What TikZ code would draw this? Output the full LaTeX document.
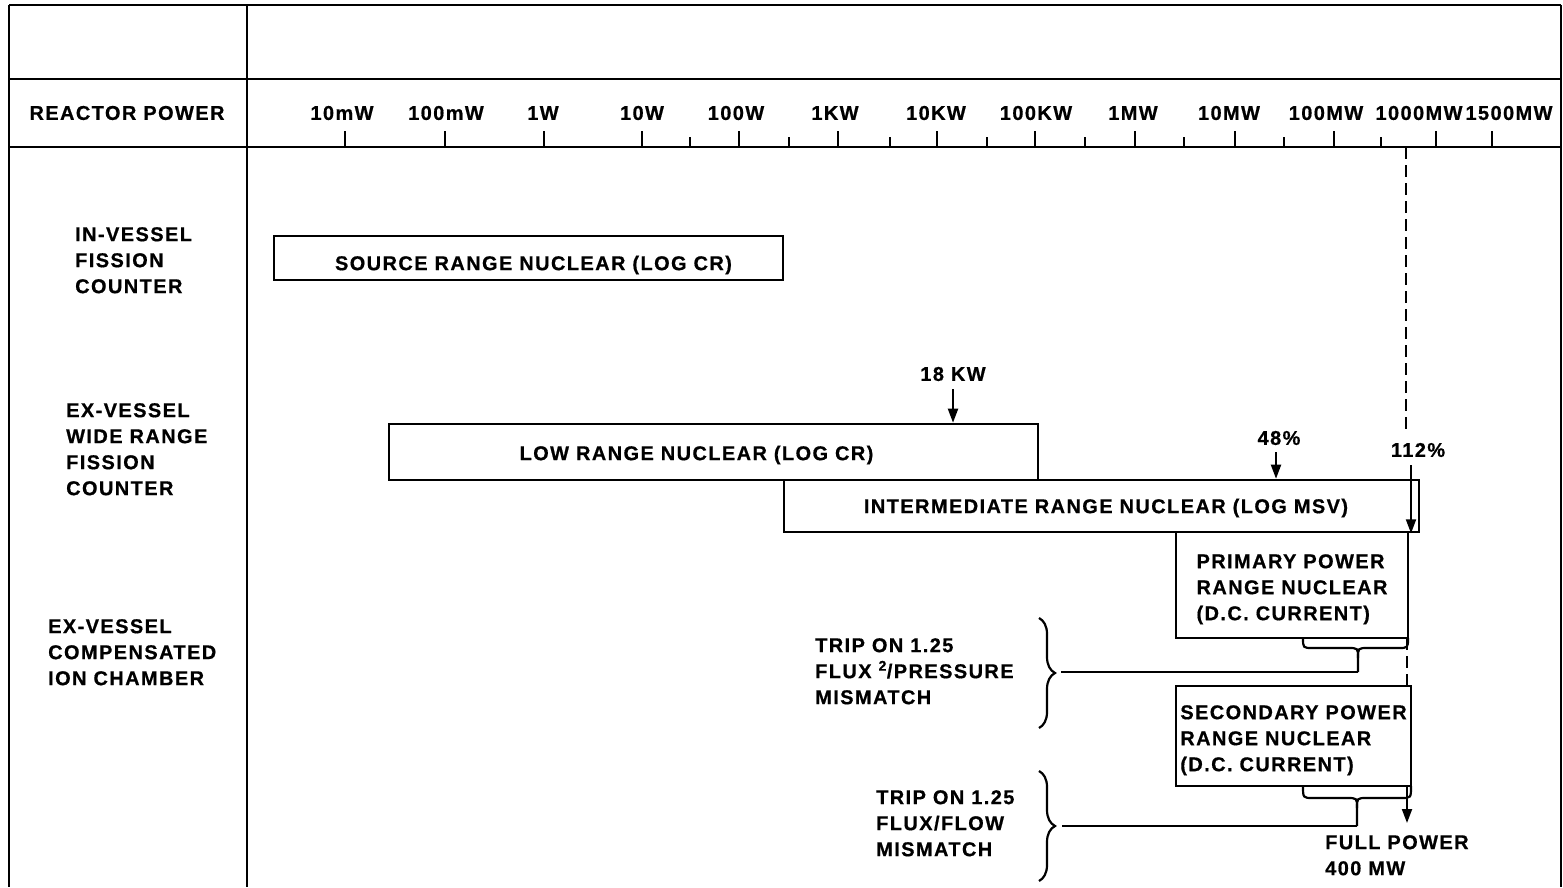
\documentclass[tikz,border=0pt]{standalone}
\usepackage{fontspec}
\setmainfont{Liberation Sans}[LetterSpace=7,BoldFeatures={FakeBold=0.6}]
\usetikzlibrary{arrows.meta,decorations.pathreplacing}
\newcommand{\dn}[2]{\raisebox{-#1}[\height][\depth]{#2}}
\tikzset{
  lab/.style={font=\fontsize{20}{26}\selectfont\bfseries, inner sep=0pt},
  blk/.style={lab, align=left, anchor=north west},
  box/.style={draw, line width=2.6pt, rectangle, inner sep=0pt, font=\fontsize{20}{26}\selectfont\bfseries},
  frame/.style={line width=2.6pt},
  tick/.style={line width=2.8pt},
  arr/.style={line width=2pt, -{Triangle[length=14pt,width=10pt]}},
  dsh/.style={line width=2pt, dash pattern=on 12pt off 6pt},
  conn/.style={line width=2.2pt},
  rbrace/.style={line width=2.2pt, decorate, decoration={brace, amplitude=16pt}}
}
\begin{document}
\begin{tikzpicture}[x=1pt,y=-1pt]
\useasboundingbox (0,0) rectangle (1563,887);
% frame
\draw[frame] (9,5) -- (1561,5);
\draw[frame] (9,5) -- (9,887);
\draw[frame] (1561,5) -- (1561,887);
\draw[frame] (247,5) -- (247,887);
\draw[frame] (9,79) -- (1561,79);
\draw[frame] (9,147) -- (1561,147);
\node[lab] (rp) at (127,113) {REACTOR POWER};
% scale ticks
\foreach \x in {345,445,544,642,739,838,937,1035,1135,1235,1334,1436,1492}
  \draw[tick] (\x,131) -- (\x,147);
\foreach \x in {690,789,890,987,1085,1184,1284,1381}
  \draw[tick] (\x,137) -- (\x,147);
\node[lab] (s1) at (342,113) {10mW};
\node[lab] (s2) at (446,113) {100mW};
\node[lab] (s3) at (543,113) {1W};
\node[lab] (s4) at (642,113) {10W};
\node[lab] (s5) at (736,113) {100W};
\node[lab] (s6) at (835,113) {1KW};
\node[lab] (s7) at (936,113) {10KW};
\node[lab] (s8) at (1036,113) {100KW};
\node[lab] (s9) at (1133,113) {1MW};
\node[lab] (s10) at (1229,113) {10MW};
\node[lab] (s11) at (1326,113) {100MW};
\node[lab] (s12) at (1419,113) {1000MW};
\node[lab] (s13) at (1509,113) {1500MW};
% left labels
\node[blk] (l1) at (75,227) {IN-VESSEL\\FISSION\\COUNTER};
\node[blk] (l2) at (66,403) {EX-VESSEL\\WIDE RANGE\\FISSION\\COUNTER};
\node[blk] (l3) at (48,619) {EX-VESSEL\\COMPENSATED\\ION CHAMBER};
% boxes
\node[box, minimum width=509pt, minimum height=44pt] (src) at (528.5,258)
  {\dn{7pt}{\hspace*{10pt}SOURCE RANGE NUCLEAR (LOG CR)}};
\node[box, minimum width=649pt, minimum height=56pt] (low) at (713.5,452)
  {\dn{3pt}{LOW RANGE NUCLEAR (LOG CR)\hspace*{34pt}}};
\node[box, minimum width=635pt, minimum height=52pt] (int) at (1101.5,506)
  {\dn{2pt}{\hspace*{9pt}INTERMEDIATE RANGE NUCLEAR (LOG MSV)}};
\node[box, minimum width=232pt, minimum height=106pt] (pri) at (1292,585)
  {\dn{4pt}{\begin{tabular}{@{}l@{}}PRIMARY POWER\\RANGE NUCLEAR\\(D.C. CURRENT)\end{tabular}}};
\node[box, minimum width=235pt, minimum height=100pt] (sec) at (1293.5,736)
  {\dn{4pt}{\begin{tabular}{@{}l@{}}SECONDARY POWER\\RANGE NUCLEAR\\(D.C. CURRENT)\end{tabular}}};
% markers
\node[lab] (kw) at (953,374) {18 KW};
\draw[arr] ([yshift=-8pt]kw.south) -- (kw.south |- low.north);
\node[lab] (p48) at (1279,438) {48\%};
\draw[arr] ([xshift=-3pt,yshift=-7pt]p48.south) -- ([xshift=-3pt]p48.south |- int.north);
\node[lab] (p112) at (1418,450) {112\%};
\coordinate (axfull) at (1406,147);
\coordinate (dend) at (1406,432);
\coordinate (a112) at (1411,465);
\draw[dsh] (axfull) -- (dend);
\draw[arr] (a112) -- (a112 |- int.south);
\draw[dsh] (1407,638) -- (1407,686);
\coordinate (fpstart) at (1407,786);
\coordinate (fpend) at (1407,823);
\draw[arr] (fpstart) -- (fpend);
\node[blk] (fp) at (1325,835) {FULL POWER\\400 MW};
% under-braces
\coordinate (t1) at (1358,672);
\draw[conn] (1303,638) .. controls (1303,648) .. (1313,648) -- (1348,648)
  .. controls (1358,648) .. (1358,658) -- (t1);
\draw[conn] (1408,638) .. controls (1408,648) .. (1398,648) -- (1368,648)
  .. controls (1358,648) .. (1358,658);
\coordinate (t2) at (1357,826);
\draw[conn] (1303,786) .. controls (1303,798) .. (1313,798) -- (1347,798)
  .. controls (1357,798) .. (1357,808) -- (t2);
\draw[conn] (1411,786) .. controls (1411,798) .. (1401,798) -- (1367,798)
  .. controls (1357,798) .. (1357,808);
% trip texts and braces
\node[blk] (tr1) at (815,638) {TRIP ON 1.25\\FLUX \textsuperscript{2}/PRESSURE\\MISMATCH};
\node[blk] (tr2) at (876,790) {TRIP ON 1.25\\FLUX/FLOW\\MISMATCH};
\draw[rbrace] (1039,618) -- (1039,728);
\draw[rbrace] (1039,771) -- (1039,881);
\coordinate (b1t) at (1061,672);
\coordinate (b2t) at (1062,826);
\draw[conn] (b1t) -- (t1);
\draw[conn] (b2t) -- (t2);
\end{tikzpicture}
\end{document}
